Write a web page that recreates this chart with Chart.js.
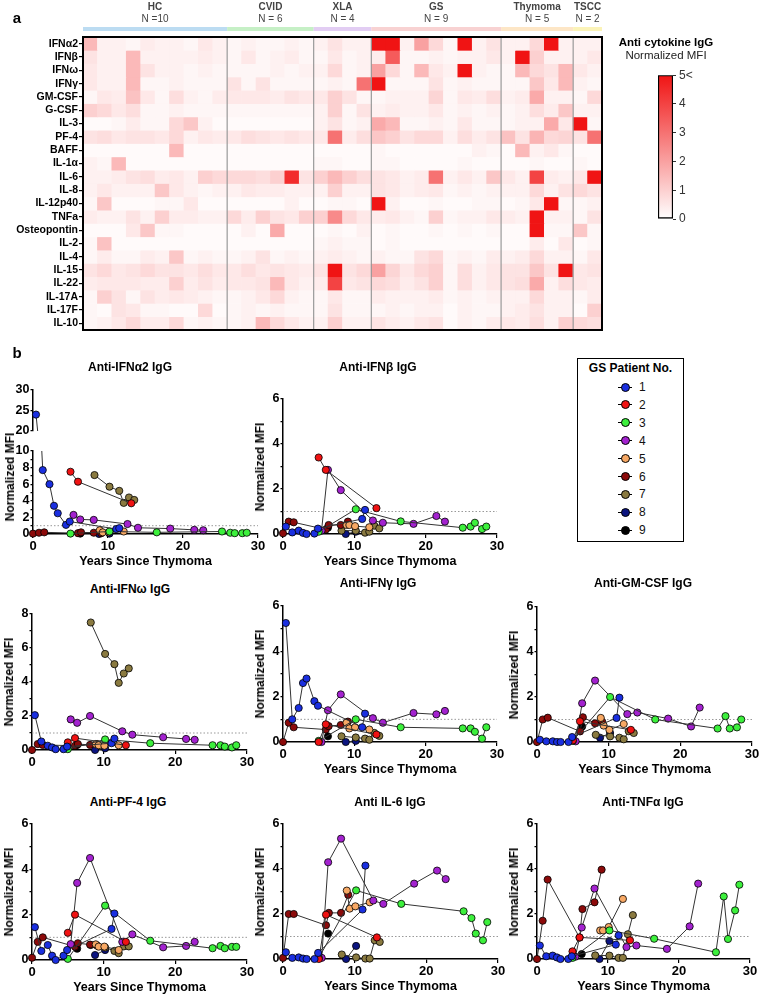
<!DOCTYPE html>
<html>
<head>
<meta charset="utf-8">
<script src="https://cdn.jsdelivr.net/npm/chart.js@4.4.0/dist/chart.umd.min.js"></script>
<style>
  body { margin: 0; background: #fff; font-family: "Liberation Sans", Arial, sans-serif; }
  #page { position: relative; width: 762px; height: 997px; overflow: hidden; background: #fff; }
  #page canvas { position: absolute; }
  .txt { position: absolute; white-space: nowrap; transform: translate(-50%, -50%); color: #000; }
  .ttl { font-weight: bold; font-size: 12px; }
  .ytl { font-weight: bold; font-size: 12px; }
  .lbl { font-weight: bold; font-size: 15px; }
  #legend { position: absolute; left: 577px; top: 358px; width: 105px; height: 182px; border: 1.5px solid #000; }
  .item { position: absolute; left: 40px; height: 12px; }
  .item .stub { position: absolute; left: 0; top: 5.5px; width: 14px; height: 1px; background: #000; }
  .item .dot { position: absolute; left: 2.5px; top: 1.5px; width: 7px; height: 7px; border-radius: 50%; border: 1px solid #000; }
  .item span { position: absolute; left: 21px; top: -1px; font-size: 12px; color: #111; }
</style>
</head>
<body>
<div id="page"></div>
<script>
// ---- heatmap data (normalized MFI, 0..5) ----
const HEAT_ROWS = ["IFNα2", "IFNβ", "IFNω", "IFNγ", "GM-CSF", "G-CSF", "IL-3", "PF-4", "BAFF", "IL-1α", "IL-6",
  "IL-8", "IL-12p40", "TNFa", "Osteopontin", "IL-2", "IL-4", "IL-15", "IL-22", "IL-17A", "IL-17F", "IL-10"];
const HEAT_GROUPS = ["HC", "CVID", "XLA", "GS", "Thymoma", "TSCC"];
const GROUP_N = ["N =10", "N = 6", "N = 4", "N = 9", "N = 5", "N = 2"];
const GROUP_SIZES = [10, 6, 4, 9, 5, 2];

//                 HC                                        CVID                        XLA                 GS                                          Thymoma                 TSCC
const heatIFNa2 = [1.5,0.3,0.3,0.2,0.4,0.3,0.3,0.2,0.5,0.3, 0.2,0.3,0.2,0.2,0.3,0.2, 0.3,0.6,0.3,0.3, 5,5,0.3,2,0.8,0.2,5,0.3,0.6, 0.3,0.3,0.8,5,0.3, 0.3,0.3];
const heatIFNb  = [0.6,0.3,0.3,1.5,0.3,0.3,0.3,0.3,0.4,0.3, 0.2,0.5,0.2,0.3,0.4,0.2, 0.2,0.5,0.2,0.3, 0.4,3.5,0.2,0.2,0.3,0.2,0.3,0.3,0.5, 0.3,5,1,0.3,0.3, 0.3,0.5];
const heatIFNw  = [0.5,0.3,0.3,1.5,0.6,0.3,0.3,0.2,0.3,0.2, 0.2,0.2,0.2,0.3,0.2,0.3, 0.3,0.8,0.2,0.3, 2,0.8,0.2,1.5,0.5,0.3,5,0.3,0.2, 0.2,1.5,0.8,0.6,1.5, 0.5,0.3];
const heatIFNg  = [0.5,0.3,0.3,1.5,0.2,0.2,0.3,0.2,0.2,0.2, 0.6,0.2,0.6,0.2,0.2,0.2, 0.2,0.3,0.2,3, 5,0.2,0.2,0.2,0.6,0.2,0.3,0.2,0.2, 0.2,0.2,1.2,0.5,1.5, 0.3,0.2];
const heatGMCSF = [0.2,0.5,0.4,1.3,0.5,0.2,0.7,0.3,0.2,0.4, 0.5,0.5,0.5,0.4,0.6,0.5, 0.5,1.0,0.6,0.2, 0.2,0.3,0.3,0.3,0.9,0.2,0.5,0.4,0.7, 0.3,0.4,1.8,0.3,0.3, 0.2,0.8];
const heatGCSF  = [1.0,0.8,0.5,0.7,0.2,0.2,0.3,0.2,0.2,0.2, 0.2,0.2,0.2,0.2,0.2,0.2, 0.3,1.0,0.2,0.6, 0.3,0.4,0.3,0.3,0.5,0.2,0.3,0.2,0.3, 0.2,0.3,0.7,0.4,1.2, 0.3,0.3];
const heatIL3   = [0.1,0.1,0.2,0.4,0.2,0.2,0.8,1.2,0.3,0.1, 0.1,0.1,0.1,0.1,0.1,0.1, 0.3,0.6,0.2,0.3, 1.8,1.5,0.2,0.2,0.3,0.2,0.5,0.2,0.2, 0.2,0.3,0.3,1.8,0.5, 5,0.2];
const heatPF4   = [0.6,0.7,0.5,0.6,0.6,0.5,0.8,0.3,0.5,0.4, 0.5,0.7,0.6,0.5,0.6,0.5, 0.5,3,0.4,0.7, 1.2,1.0,0.6,0.8,0.8,0.3,0.7,0.4,0.6, 1.3,0.6,1.6,0.8,0.9, 0.6,3];
const heatBAFF  = [0.1,0.1,0.1,0.1,0.1,0.1,1.5,0.1,0.1,0.1, 0.1,0.1,0.1,0.1,0.1,0.1, 0.1,0.1,0.1,0.1, 0.2,0.1,0.1,0.1,0.1,0.1,0.1,0.3,0.2, 0.1,1.5,0.3,0.5,0.2, 0.1,0.1];
const heatIL1a  = [0.3,0.2,1.5,0.1,0.1,0.1,0.1,0.1,0.1,0.1, 0.1,0.1,0.1,0.1,0.1,0.1, 0.2,0.2,0.1,0.1, 0.2,0.2,0.1,0.1,0.1,0.1,0.2,0.1,0.1, 0.1,0.1,0.2,0.1,0.1, 0.2,0.1];
const heatIL6   = [0.3,0.3,0.4,0.6,0.7,0.4,0.5,0.3,1.0,0.8, 0.8,0.8,0.7,1.0,4.5,0.6, 1.0,1.5,1.0,0.7, 0.6,0.5,0.3,0.4,3,0.3,0.5,0.3,1.2, 0.5,0.3,4,0.4,0.3, 0.5,5];
const heatIL8   = [0.3,0.5,0.3,0.3,0.3,1.2,0.5,0.3,0.2,0.3, 0.3,0.5,0.4,0.4,0.3,0.3, 0.3,1.0,0.3,0.3, 0.6,0.5,0.3,0.4,0.5,0.2,0.3,0.2,0.3, 0.3,0.3,0.8,0.3,0.6, 0.8,0.6];
const heatIL12  = [0.2,1.2,0.1,0.1,0.1,0.2,0.2,0.5,0.1,0.1, 0.1,0.1,0.1,0.1,0.3,0.1, 0.1,0.2,0.2,0.1, 5,0.3,0.1,0.1,0.2,0.1,0.1,0.2,0.2, 0.1,0.2,0.5,5,0.2, 0.2,0.3];
const heatTNFa  = [0.4,0.3,0.3,0.6,0.3,1.0,0.4,0.4,0.3,0.3, 0.8,0.4,1.0,0.6,0.5,1.0, 1.0,2.5,0.8,0.5, 0.4,0.5,0.3,0.2,1.0,0.2,0.3,0.3,0.5, 0.4,0.3,5,0.3,0.3, 0.2,0.6];
const heatOPN   = [0.1,0.1,0.1,0.5,1.2,0.2,0.2,0.1,0.1,0.1, 0.1,0.3,0.1,1.8,0.1,0.1, 0.1,0.2,0.1,0.3, 0.1,0.2,0.1,0.1,0.2,0.1,0.2,0.1,0.2, 0.1,0.1,5,0.2,0.2, 1.2,0.2];
const heatIL2   = [0.2,1.3,0.1,0.1,0.1,0.1,0.1,0.1,0.1,0.1, 0.1,0.1,0.1,0.1,0.1,0.1, 0.2,0.3,0.2,0.2, 0.1,0.2,0.1,0.1,0.1,0.1,0.1,0.1,0.1, 0.1,0.1,0.4,0.1,0.5, 0.1,0.2];
const heatIL4   = [0.2,0.4,0.2,0.2,0.4,0.3,1.2,0.2,0.3,0.2, 0.2,0.3,0.6,0.2,0.3,0.2, 0.3,0.4,0.3,0.2, 0.3,0.2,0.2,0.6,0.8,0.2,0.3,0.2,0.4, 0.3,0.4,0.8,0.3,0.3, 0.2,0.5];
const heatIL15  = [0.6,0.8,0.5,0.6,0.8,0.6,0.6,0.5,0.7,0.5, 0.5,0.7,0.5,0.6,0.5,0.4, 0.6,5,0.6,0.8, 2,0.9,0.5,0.8,1.0,0.2,0.7,0.3,0.5, 0.6,0.6,1.2,0.6,5, 0.5,0.6];
const heatIL22  = [0.4,0.5,0.5,0.5,0.4,0.4,1.0,0.4,0.6,0.4, 0.5,0.5,0.6,1.5,0.5,0.3, 0.4,4,0.5,0.6, 0.8,0.7,0.4,0.6,1.0,0.2,0.7,0.3,0.5, 0.6,0.7,1.8,0.3,0.7, 0.5,0.4];
const heatIL17A = [0.2,1.0,0.6,0.2,0.6,0.4,0.5,0.4,0.3,0.2, 0.2,0.3,0.5,0.8,0.3,0.2, 0.2,0.5,0.2,0.2, 0.4,0.3,0.3,0.3,0.4,0.2,0.3,0.2,0.3, 0.3,0.3,0.8,0.3,0.3, 0.2,0.4];
const heatIL17F = [0.2,0.1,0.6,0.5,0.2,0.2,0.1,0.1,0.8,0.1, 0.2,0.3,0.2,0.3,0.2,0.2, 0.2,0.6,0.2,0.2, 0.2,0.3,0.2,0.3,0.3,0.1,0.3,0.2,0.2, 0.3,0.4,0.6,0.3,0.3, 0.1,1.0];
const heatIL10  = [0.2,0.3,0.5,0.8,0.4,0.4,0.8,0.2,0.3,0.2, 0.2,0.3,1.5,0.8,0.5,0.3, 0.3,1.0,0.3,0.3, 0.6,0.4,0.3,0.5,0.6,0.1,0.3,0.2,0.4, 0.5,0.4,0.7,0.3,1.0, 0.8,0.7];
const HEAT_VALUES = [heatIFNa2, heatIFNb, heatIFNw, heatIFNg, heatGMCSF, heatGCSF, heatIL3, heatPF4, heatBAFF, heatIL1a, heatIL6,
  heatIL8, heatIL12, heatTNFa, heatOPN, heatIL2, heatIL4, heatIL15, heatIL22, heatIL17A, heatIL17F, heatIL10];
const SCALE_MIN = 0, SCALE_MAX = 5;

// ---- GS patients: years since thymoma per sample ----
const PATIENT_NO = ["1", "2", "3", "4", "5", "6", "7", "8", "9"];
const PATIENT_COLORS = ["#1a2fe0", "#f01212", "#3cf03c", "#a322cf", "#f7a864", "#8c0a0a", "#8a7a40", "#0b1480", "#000000"];
const YEARS = [
  [0.4, 1.3, 2.2, 2.8, 3.3, 4.4, 4.9, 11.1, 11.5],
  [5.0, 6.0, 13.1],
  [5.0, 10.2, 16.5, 25.2, 26.3, 26.9, 27.9, 28.5],
  [5.4, 6.3, 8.1, 12.6, 14.0, 18.3, 21.5, 22.7],
  [8.9, 9.3, 10.1, 12.1],
  [0.0, 0.8, 1.5, 6.0, 6.4, 8.1, 9.1],
  [8.2, 10.2, 11.5, 12.1, 12.8, 13.5],
  [8.8, 10.2],
  [6.3]
];
const THRESHOLD = 1;

// normalized MFI per patient (same order as YEARS)
const IFNA2_MFI = [
  [24, 7.7, 6.0, 3.4, 2.5, 1.1, 1.5, 0.6, 0.7], [7.5, 6.3, 3.7], [0.05, 0.3, 0.2, 0.3, 0.15, 0.1, 0.1, 0.15],
  [2.3, 1.75, 1.7, 1.2, 0.75, 0.65, 0.5, 0.45], [0.45, 0.2, 0.2, 0.3], [0.05, 0.15, 0.2, 0.1, 0.2, 0.15, 0.1],
  [7.1, 5.7, 5.2, 3.75, 4.4, 4.1], [0.0, 0.05], [0.05]];
const IFNB_MFI = [
  [0.33, 0.07, 0.15, 0.05, 0.0, 0.02, 0.24, 0.67, 1.07], [3.4, 2.85, 1.15], [0.1, 1.1, 0.56, 0.28, 0.33, 0.5, 0.22, 0.33],
  [0.15, 2.85, 1.95, 0.6, 0.5, 0.45, 0.8, 0.55], [0.4, 0.4, 0.35, 0.3], [0.03, 0.55, 0.52, 0.2, 0.4, 0.4, 0.55],
  [0.15, 0.15, 0.06, 0.1, 0.37, 0.25], [0.0, 0.1], [0.28]];
const IFNW_MFI = [
  [2.05, 0.5, 0.25, 0.15, 0.05, 0.05, 0.2, 0.4, 0.67], [0.45, 0.7, 0.28], [0.05, 0.62, 0.4, 0.28, 0.28, 0.2, 0.15, 0.28],
  [1.8, 1.6, 2.0, 1.1, 0.9, 0.75, 0.65, 0.6], [0.35, 0.28, 0.25, 0.28], [0.0, 0.35, 0.3, 0.25, 0.35, 0.3, 0.35],
  [7.5, 5.65, 5.05, 3.95, 4.5, 4.8], [0.0, 0.1], [0.3]];
const IFNG_MFI = [
  [5.25, 1.0, 1.5, 2.6, 2.8, 1.8, 1.6, 0.65, 1.25], [0.0, 0.78, 0.33], [0.05, 1.0, 0.65, 0.6, 0.6, 0.45, 0.15, 0.65],
  [0.0, 1.4, 2.1, 1.05, 0.85, 1.28, 1.22, 1.37], [0.85, 0.6, 0.65, 0.55], [0.0, 0.85, 0.65, 0.55, 0.7, 0.75, 0.9],
  [0.25, 0.2, 0.15, 0.1, 0.4, 0.27], [0.0, 0.05], [0.25]];
const GMCSF_MFI = [
  [0.1, 0.03, 0.03, 0.0, 0.0, 0.0, 0.22, 1.07, 1.97], [0.07, 0.92, 0.54], [0.05, 2.0, 1.0, 0.6, 1.15, 0.6, 0.65, 1.0],
  [0.03, 1.72, 2.73, 1.24, 1.31, 1.04, 0.69, 1.53], [1.07, 0.73, 0.54, 0.8], [0.0, 1.0, 1.08, 0.47, 1.1, 0.83, 0.9],
  [0.32, 0.25, 0.19, 0.12, 0.48, 0.4], [0.19, 0.4], [0.69]];
const PF4_MFI = [
  [1.45, 0.4, 0.66, 0.19, 0.0, 0.19, 0.44, 1.37, 2.05], [1.2, 2.0, 0.8], [0.05, 2.4, 0.85, 0.52, 0.62, 0.52, 0.58, 0.58],
  [0.7, 3.4, 4.5, 0.8, 1.13, 0.56, 0.62, 0.8], [0.69, 0.59, 0.59, 0.44], [0.1, 0.8, 1.0, 0.59, 0.74, 0.68, 0.63],
  [0.66, 0.55, 0.4, 0.3, 0.6, 0.6], [0.22, 0.44], [0.5]];
const IL6_MFI = [
  [0.3, 0.05, 0.07, 0.02, 0.0, 0.0, 0.27, 2.2, 4.15], [0.0, 1.97, 0.96], [0.05, 3.05, 2.45, 2.12, 1.82, 1.13, 0.83, 1.64],
  [0.05, 4.3, 5.35, 2.6, 2.45, 3.35, 3.93, 3.55], [3.04, 2.24, 2.34, 2.52], [0.05, 2.0, 2.0, 1.5, 2.05, 2.05, 2.85],
  [0.2, 0.07, 0.02, 0.02, 0.83, 0.76], [0.0, 0.58], [1.13]];
const TNFA_MFI = [
  [0.6, 0.12, 0.15, 0.07, 0.0, 0.0, 0.12, 0.64, 1.05], [0.34, 0.96, 0.83], [0.05, 1.27, 0.9, 0.3, 2.78, 0.89, 2.16, 3.3],
  [0.1, 1.4, 3.13, 0.53, 0.6, 0.45, 1.45, 3.35], [1.27, 1.27, 1.42, 2.67], [0.0, 1.7, 3.53, 0.95, 2.22, 2.52, 3.97],
  [0.16, 0.15, 0.05, 0.05, 1.1, 1.95], [0.0, 0.8], [0.22]];

const FONT = '"Liberation Sans", Arial, sans-serif';
Chart.defaults.font.family = FONT;
Chart.defaults.color = "#000";
Chart.defaults.animation = false;

const page = document.getElementById("page");

function addText(text, cx, cy, cls, extra) {
  const d = document.createElement("div");
  d.className = "txt " + cls;
  d.textContent = text;
  d.style.left = cx + "px";
  d.style.top = cy + "px";
  if (extra) Object.assign(d.style, extra);
  page.appendChild(d);
}

function addCanvas(left, top, w, h) {
  const cv = document.createElement("canvas");
  cv.width = w; cv.height = h;
  cv.style.left = left + "px"; cv.style.top = top + "px";
  cv.style.width = w + "px"; cv.style.height = h + "px";
  page.appendChild(cv);
  return cv;
}

// white -> red, values above 5 saturate
function heatColor(v) {
  const t = Math.min(Math.max(v, SCALE_MIN), SCALE_MAX) / SCALE_MAX;
  const gb = Math.round(255 - 235 * t);
  return `rgb(${Math.round(255 - 15 * t)},${gb},${gb})`;
}

// ---------- panel a: heatmap ----------
const GROUP_COLORS = ["#bcdcf2", "#c6f0c6", "#e2cdf3", "#f8d2d2", "#fde6c6", "#fbf3b8"];
const heatDecor = {
  id: "heatDecor",
  afterDraw(chart) {
    const { ctx, chartArea: a, scales: { x } } = chart;
    const colW = x.getPixelForValue(1) - x.getPixelForValue(0);
    let start = 0;
    ctx.save();
    GROUP_SIZES.forEach((n, g) => {
      const x0 = a.left + start * colW, x1 = x0 + n * colW;
      if (start > 0) {
        ctx.strokeStyle = "#999"; ctx.lineWidth = 1.2;
        ctx.beginPath(); ctx.moveTo(x0, a.top); ctx.lineTo(x0, a.bottom); ctx.stroke();
      }
      ctx.fillStyle = GROUP_COLORS[g];
      ctx.fillRect(x0, a.top - 10, x1 - x0, 4);
      ctx.fillStyle = "#444"; ctx.textAlign = "center"; ctx.textBaseline = "middle";
      ctx.font = "bold 10px " + FONT;
      ctx.fillText(HEAT_GROUPS[g], (x0 + x1) / 2, 7);
      ctx.font = "10px " + FONT;
      ctx.fillText(GROUP_N[g], (x0 + x1) / 2, 19);
      start += n;
    });
    ctx.strokeStyle = "#000"; ctx.lineWidth = 2;
    ctx.strokeRect(a.left, a.top, a.right - a.left, a.bottom - a.top);
    ctx.restore();
  }
};

const COLUMN_IDS = [];
GROUP_SIZES.forEach((n, g) => { for (let i = 1; i <= n; i++) COLUMN_IDS.push(HEAT_GROUPS[g] + " " + i); });

const heatCanvas = addCanvas(0, 0, 620, 340);
new Chart(heatCanvas, {
  type: "bar",
  data: {
    labels: COLUMN_IDS,
    datasets: HEAT_ROWS.map((name, r) => ({
      label: name,
      data: HEAT_VALUES[r].map(() => 1),
      backgroundColor: HEAT_VALUES[r].map(heatColor),
      borderWidth: 0,
      barPercentage: 1,
      categoryPercentage: 1
    }))
  },
  options: {
    responsive: false, devicePixelRatio: 1, animation: false,
    layout: { padding: { top: 37, right: 18, bottom: 10, left: 0 } },
    plugins: { legend: { display: false }, tooltip: { enabled: false } },
    scales: {
      x: { stacked: true, display: false },
      y: {
        stacked: true, min: 0, max: HEAT_ROWS.length, reverse: true,
        afterFit: (s) => { s.width = 83; },
        afterBuildTicks: (s) => { s.ticks = HEAT_ROWS.map((_, i) => ({ value: i + 0.5 })); },
        ticks: { autoSkip: false, padding: 1, font: { size: 10.5, weight: "bold" }, callback: (v) => HEAT_ROWS[Math.floor(v)] },
        grid: { drawOnChartArea: false, tickLength: 4, color: "#000", lineWidth: 1.2 },
        border: { display: false }
      }
    }
  },
  plugins: [heatDecor]
});

// colour scale bar
const barCanvas = addCanvas(640, 65, 60, 165);
new Chart(barCanvas, {
  type: "bar",
  data: {
    labels: ["MFI"],
    datasets: [{
      data: [[SCALE_MIN, SCALE_MAX]],
      backgroundColor: (c) => {
        const a = c.chart.chartArea;
        if (!a) return heatColor(SCALE_MAX);
        const g = c.chart.ctx.createLinearGradient(0, a.bottom, 0, a.top);
        g.addColorStop(0, heatColor(SCALE_MIN));
        g.addColorStop(1, heatColor(SCALE_MAX));
        return g;
      },
      borderColor: "#000", borderWidth: 1.5, borderSkipped: false,
      barPercentage: 1, categoryPercentage: 1
    }]
  },
  options: {
    responsive: false, devicePixelRatio: 1, animation: false,
    layout: { padding: { top: 10, right: 0, bottom: 11, left: 18 } },
    plugins: { legend: { display: false }, tooltip: { enabled: false } },
    scales: {
      x: { display: false },
      y: {
        position: "right", min: SCALE_MIN, max: SCALE_MAX,
        afterFit: (s) => { s.width = 27; },
        ticks: { stepSize: 1, padding: 3, color: "#333", font: { size: 12 }, callback: (v) => (v === SCALE_MAX ? SCALE_MAX + "<" : v) },
        grid: { drawOnChartArea: false, tickLength: 3, color: "#333" },
        border: { display: false }
      }
    }
  }
});

addText("a", 17, 17, "lbl");
addText("b", 17, 352, "lbl");
addText("Anti cytokine IgG", 666, 42, "", { fontWeight: "bold", fontSize: "11.5px" });
addText("Normalized MFI", 666, 55, "", { fontSize: "11.5px", color: "#222" });

// ---------- panel b: longitudinal plots ----------
function makePanel(p) {
  const yW = 33, padT = 10, padR = 14;
  const showX = p.xAxis !== false;
  const xH = showX ? (p.xTitle ? 38 : 22) : 0;
  const padB = showX ? 0 : 6;
  const left = p.l - yW, top = p.t - padT;
  const cv = addCanvas(left, top, p.r + padR - left, p.b + xH + padB - top);

  const datasets = YEARS.map((ts, i) => ({
    label: "Patient " + PATIENT_NO[i],
    data: ts.map((x, j) => ({ x, y: p.values[i][j] })),
    showLine: true,
    borderColor: "#333",
    borderWidth: 1,
    pointBackgroundColor: PATIENT_COLORS[i],
    pointBorderColor: "#000",
    pointBorderWidth: 0.8,
    pointRadius: 3.6,
    clip: p.clip || false
  }));
  datasets.push({
    label: "threshold",
    data: [{ x: 0, y: THRESHOLD }, { x: 30, y: THRESHOLD }],
    showLine: true, borderColor: "#999", borderWidth: 1, borderDash: [1.5, 2],
    pointRadius: 0, clip: p.clip || false
  });

  // y tick labels, written at the scale's own pixel positions
  const yLabels = {
    id: "yLabels",
    afterDraw(chart) {
      const { ctx, chartArea: a, scales: { y } } = chart;
      ctx.save();
      ctx.font = "bold 12.5px " + FONT;
      ctx.fillStyle = "#000";
      ctx.textAlign = "right";
      ctx.textBaseline = "middle";
      for (let v = p.yMin; v <= p.yMax; v += p.yLabel) {
        ctx.fillText(String(v), a.left - 3.5, y.getPixelForValue(v));
      }
      ctx.restore();
    }
  };

  new Chart(cv, {
    type: "scatter",
    data: { datasets },
    options: {
      responsive: false, devicePixelRatio: 1, animation: false,
      layout: { padding: { top: padT, right: padR, bottom: padB, left: 0 } },
      plugins: { legend: { display: false }, tooltip: { enabled: false } },
      scales: {
        x: {
          type: "linear", min: 0, max: 30, display: showX,
          afterFit: (s) => { s.height = xH; },
          ticks: { stepSize: 10, padding: 1, maxRotation: 0, autoSkip: false, font: { size: 13, weight: "bold" } },
          grid: { drawOnChartArea: false, tickLength: 4, color: "#000", lineWidth: 1.2 },
          border: { color: "#000", width: 1.5 },
          title: { display: !!p.xTitle, text: "Years Since Thymoma", padding: { top: 0, bottom: 3 }, font: { size: 12.5, weight: "bold" } }
        },
        y: {
          type: "linear", min: p.yMin, max: p.yMax,
          afterFit: (s) => { s.width = yW; },
          afterBuildTicks: (s) => {
            const ticks = [];
            for (let v = p.yMin; v <= p.yMax; v += p.yStep) ticks.push({ value: v });
            s.ticks = ticks;
          },
          ticks: { display: false },
          grid: { drawOnChartArea: false, drawTicks: true, tickLength: 2.5, color: "#000", lineWidth: 1.2 },
          border: { color: "#000", width: 1.5 }
        }
      }
    },
    plugins: [yLabels]
  });
  if (p.yTitle) {
    addText("Normalized MFI", p.l - 23, p.titleY || (p.t + p.b) / 2, "ytl", { transform: "translate(-50%, -50%) rotate(-90deg)" });
  }
}

const PANELS = [
  { values: IFNA2_MFI, l: 33, r: 258, t: 451, b: 534, yMin: 0, yMax: 10, yStep: 1, yLabel: 2, xTitle: true, yTitle: true, titleY: 477,
    clip: { left: 8, right: 8, top: 0, bottom: 8 } },
  { values: IFNA2_MFI, l: 33, r: 258, t: 390, b: 431, yMin: 20, yMax: 30, yStep: 5, yLabel: 5, xAxis: false,
    clip: { left: 8, right: 8, top: 8, bottom: 0 } },
  { values: IFNB_MFI, l: 283, r: 497, t: 399, b: 534, yMin: 0, yMax: 6, yStep: 1, yLabel: 2, xTitle: true, yTitle: true },
  { values: IFNW_MFI, l: 32, r: 247, t: 614, b: 750, yMin: 0, yMax: 8, yStep: 1, yLabel: 2, yTitle: true },
  { values: IFNG_MFI, l: 283, r: 497, t: 606, b: 742, yMin: 0, yMax: 6, yStep: 1, yLabel: 2, xTitle: true, yTitle: true },
  { values: GMCSF_MFI, l: 537, r: 752, t: 607, b: 742, yMin: 0, yMax: 6, yStep: 1, yLabel: 2, xTitle: true, yTitle: true },
  { values: PF4_MFI, l: 32, r: 247, t: 824, b: 960, yMin: 0, yMax: 6, yStep: 1, yLabel: 2, xTitle: true, yTitle: true },
  { values: IL6_MFI, l: 283, r: 498, t: 824, b: 959, yMin: 0, yMax: 6, yStep: 1, yLabel: 2, xTitle: true, yTitle: true },
  { values: TNFA_MFI, l: 537, r: 750, t: 824, b: 959, yMin: 0, yMax: 6, yStep: 1, yLabel: 2, xTitle: true, yTitle: true }
];
PANELS.forEach(makePanel);

addText("Anti-IFNα2 IgG", 130, 367, "ttl");
addText("Anti-IFNβ IgG", 378, 367, "ttl");
addText("Anti-IFNω IgG", 130, 589, "ttl");
addText("Anti-IFNγ IgG", 378, 583, "ttl");
addText("Anti-GM-CSF IgG", 643, 583, "ttl");
addText("Anti-PF-4 IgG", 128, 802, "ttl");
addText("Anti IL-6 IgG", 390, 802, "ttl");
addText("Anti-TNFα IgG", 643, 802, "ttl");

// legend box
const legend = document.createElement("div");
legend.id = "legend";
const lt = document.createElement("div");
lt.textContent = "GS Patient No.";
Object.assign(lt.style, { position: "absolute", left: "0", right: "0", top: "2px", textAlign: "center", fontWeight: "bold", fontSize: "12px" });
legend.appendChild(lt);
PATIENT_NO.forEach((no, i) => {
  const it = document.createElement("div");
  it.className = "item";
  it.style.top = (22 + i * 17.9) + "px";
  it.innerHTML = '<div class="stub"></div><div class="dot"></div><span></span>';
  it.querySelector(".dot").style.background = PATIENT_COLORS[i];
  it.querySelector("span").textContent = no;
  legend.appendChild(it);
});
page.appendChild(legend);
</script>
</body>
</html>
